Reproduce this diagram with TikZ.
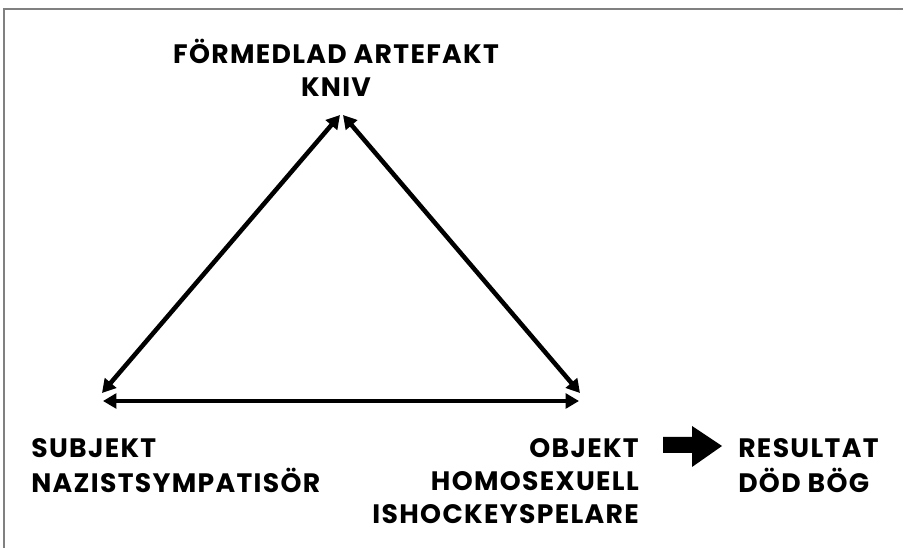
\documentclass[tikz,border=0pt]{standalone}
\usepackage{fontspec}
\setmainfont{Poppins}[LetterSpace=5]
\usetikzlibrary{arrows.meta}
\newcommand{\lblfont}{\fontsize{20pt}{24.75pt}\selectfont\bfseries}
\begin{document}
\begin{tikzpicture}[x=0.75pt,y=-0.75pt,
  lbl/.style={inner sep=0pt, font=\lblfont},
  tri/.style={line width=3.4pt, {Triangle[length=10pt,width=11pt]}-{Triangle[length=10pt,width=11pt]}},
  frame/.style={draw=black!50, line width=0.8pt}]
\useasboundingbox (0,0) rectangle (903,548);
\fill[white] (0,0) rectangle (903,548);
\draw[frame] (4,548) -- (4,9) -- (903,9);
% labels (anchored on the baseline of the first line)
\node[lbl, anchor=base] (top) at (336,64)
  {\begin{tabular}[t]{@{}c@{}}FÖRMEDLAD ARTEFAKT\\KNIV\end{tabular}};
\node[lbl, anchor=base west] (subj) at (31,458)
  {\begin{tabular}[t]{@{}l@{}}SUBJEKT\\NAZISTSYMPATISÖR\end{tabular}};
\node[lbl, anchor=base east] (obj) at (639,458)
  {\begin{tabular}[t]{@{}r@{}}OBJEKT\\HOMOSEXUELL\\ISHOCKEYSPELARE\end{tabular}};
\node[lbl, anchor=base west] (res) at (738,458)
  {\begin{tabular}[t]{@{}l@{}}RESULTAT\\DÖD BÖG\end{tabular}};
% triangle corners
\coordinate (apexL) at (340,115);
\coordinate (apexR) at (343,115);
\coordinate (blD) at (102,393);
\coordinate (brD) at (580,393);
\coordinate (blH) at (103,401);
\coordinate (brH) at (579,401);
\draw[tri] (apexL) -- (blD);
\draw[tri] (apexR) -- (brD);
\draw[tri] (blH) -- (brH);
% big arrow
\fill[black] (663,437) -- (692,437) -- (692,426) -- (722,446) -- (692,467) -- (692,453) -- (663,453) -- cycle;
\end{tikzpicture}
\end{document}
